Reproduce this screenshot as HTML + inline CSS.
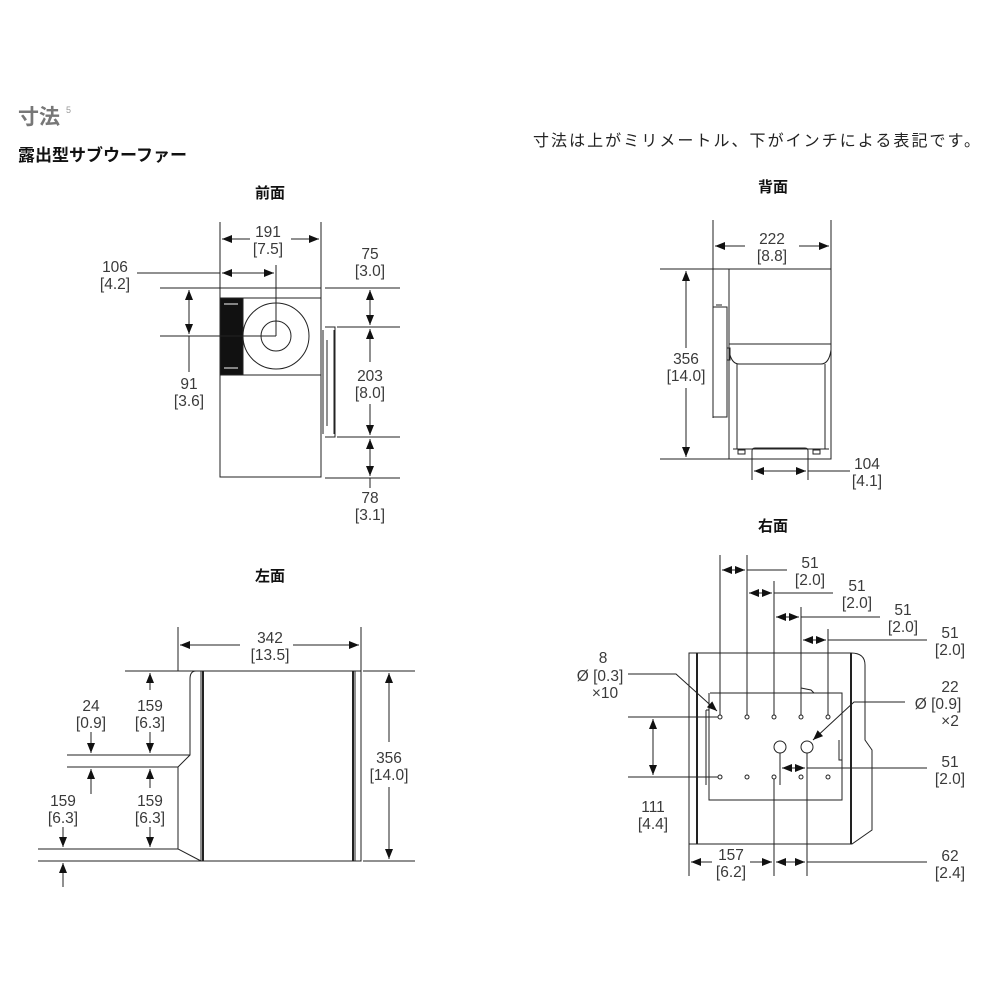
<!DOCTYPE html>
<html><head><meta charset="utf-8"><style>
html,body{margin:0;padding:0;background:#fff;}
svg{display:block;}
text{font-family:"Liberation Sans","Noto Sans CJK JP",sans-serif;}
.d{font-size:15.5px;fill:#3a3a3a;text-anchor:middle;}
.t{font-size:15px;font-weight:bold;fill:#111;text-anchor:middle;}
</style></head><body>
<svg width="1000" height="1000" viewBox="0 0 1000 1000" xmlns="http://www.w3.org/2000/svg">
<defs>
<marker id="a" viewBox="0 0 10 10" refX="10" refY="5" markerWidth="11" markerHeight="10" orient="auto-start-reverse" markerUnits="userSpaceOnUse"><path d="M0,1 L10,5 L0,9z" fill="#111"/></marker>
</defs>
<text x="18" y="124" font-size="21" font-weight="bold" fill="#777">寸法</text>
<text x="66" y="113" font-size="9" fill="#999">5</text>
<text x="18" y="161" font-size="17" font-weight="bold" fill="#111">露出型サブウーファー</text>
<text x="533" y="146" font-size="16" fill="#222" textLength="447" lengthAdjust="spacing">寸法は上がミリメートル、下がインチによる表記です。</text>

<text class="t" x="270" y="198">前面</text>
<text class="t" x="773" y="192">背面</text>
<text class="t" x="270" y="581">左面</text>
<text class="t" x="773" y="531">右面</text>

<g stroke="#222" stroke-width="1" fill="none">
<!-- FRONT -->
<rect x="220" y="288" width="101" height="189"/>
<line x1="220" y1="298" x2="321" y2="298"/>
<line x1="220" y1="375" x2="321" y2="375"/>
<rect x="220" y="298" width="23" height="77" fill="#111"/>
<line x1="224" y1="304" x2="238" y2="304" stroke="#aaa" stroke-width="1.5"/>
<line x1="224" y1="368" x2="238" y2="368" stroke="#aaa" stroke-width="1.5"/>
<circle cx="276" cy="336" r="33"/>
<circle cx="276" cy="336" r="15"/>
<path d="M325,327 h10 v110 h-10 M323,330 v104 M327,340 v86 M334,330 v104" />
<line x1="220" y1="222" x2="220" y2="288"/><line x1="321" y1="222" x2="321" y2="288"/>
<line x1="222" y1="239" x2="250" y2="239" marker-start="url(#a)"/><line x1="291" y1="239" x2="319" y2="239" marker-end="url(#a)"/>
<line x1="137" y1="273" x2="220" y2="273"/>
<line x1="222" y1="273" x2="274" y2="273" marker-start="url(#a)" marker-end="url(#a)"/>
<line x1="276" y1="265" x2="276" y2="336"/>
<line x1="160" y1="288" x2="220" y2="288"/><line x1="160" y1="336" x2="276" y2="336"/>
<line x1="189" y1="290" x2="189" y2="334" marker-start="url(#a)" marker-end="url(#a)"/>
<line x1="189" y1="336" x2="189" y2="372"/>
<line x1="325" y1="288" x2="400" y2="288"/><line x1="337" y1="327" x2="400" y2="327"/>
<line x1="337" y1="437" x2="400" y2="437"/><line x1="325" y1="478" x2="400" y2="478"/>
<line x1="370" y1="290" x2="370" y2="325" marker-start="url(#a)" marker-end="url(#a)"/>
<line x1="370" y1="329" x2="370" y2="362" marker-start="url(#a)"/>
<line x1="370" y1="404" x2="370" y2="435" marker-end="url(#a)"/>
<line x1="370" y1="439" x2="370" y2="476" marker-start="url(#a)" marker-end="url(#a)"/>
<line x1="370" y1="478" x2="370" y2="488"/>

<!-- BACK -->
<rect x="729" y="269" width="102" height="190"/>
<line x1="713" y1="269" x2="729" y2="269"/>
<line x1="713" y1="269" x2="713" y2="418"/>
<line x1="729" y1="344" x2="831" y2="344"/>
<path d="M729,350 q2,14 10,14 h82 q8,0 10,-14"/>
<path d="M737,364 v85 M825,364 v85 M733,449 h96"/>
<path d="M752,459 v-8 q0,-3 3,-3 h50 q3,0 3,3 v8"/>
<rect x="738" y="450" width="7" height="4"/><rect x="813" y="450" width="7" height="4"/>
<path d="M713,307 h14 v110 h-14 M716,305 h6 M727,348 h3 v12 h-3"/>
<line x1="713" y1="220" x2="713" y2="269"/><line x1="831" y1="220" x2="831" y2="269"/>
<line x1="715" y1="246" x2="745" y2="246" marker-start="url(#a)"/><line x1="799" y1="246" x2="829" y2="246" marker-end="url(#a)"/>
<line x1="660" y1="269" x2="713" y2="269"/><line x1="660" y1="459" x2="729" y2="459"/>
<line x1="686" y1="271" x2="686" y2="348" marker-start="url(#a)"/>
<line x1="686" y1="388" x2="686" y2="457" marker-end="url(#a)"/>
<line x1="752" y1="459" x2="752" y2="480"/><line x1="808" y1="459" x2="808" y2="480"/>
<line x1="754" y1="471" x2="806" y2="471" marker-start="url(#a)" marker-end="url(#a)"/>
<line x1="808" y1="471" x2="850" y2="471"/>

<!-- LEFT -->
<line x1="178" y1="627" x2="178" y2="671"/><line x1="361" y1="627" x2="361" y2="671"/>
<line x1="180" y1="645" x2="240" y2="645" marker-start="url(#a)"/><line x1="293" y1="645" x2="359" y2="645" marker-end="url(#a)"/>
<rect x="201" y="671" width="154" height="190"/>
<line x1="203" y1="671" x2="203" y2="861" stroke-width="2"/>
<line x1="353" y1="671" x2="353" y2="861" stroke-width="2"/>
<path d="M201,671 h-5 q-6,0 -6,8 v76 l-12,12 v82 l23,12"/>
<path d="M355,671 h6 v190 h-6"/>
<line x1="125" y1="671" x2="201" y2="671"/>
<line x1="67" y1="755" x2="190" y2="755"/><line x1="67" y1="767" x2="178" y2="767"/>
<line x1="38" y1="849" x2="178" y2="849"/><line x1="38" y1="861" x2="201" y2="861"/>
<line x1="363" y1="671" x2="415" y2="671"/><line x1="363" y1="861" x2="415" y2="861"/>
<line x1="389" y1="673" x2="389" y2="742" marker-start="url(#a)"/>
<line x1="389" y1="787" x2="389" y2="859" marker-end="url(#a)"/>
<line x1="150" y1="673" x2="150" y2="690" marker-start="url(#a)"/>
<line x1="150" y1="732" x2="150" y2="753" marker-end="url(#a)"/>
<line x1="91" y1="732" x2="91" y2="753" marker-end="url(#a)"/>
<line x1="91" y1="769" x2="91" y2="794" marker-start="url(#a)"/>
<line x1="150" y1="769" x2="150" y2="788" marker-start="url(#a)"/>
<line x1="150" y1="827" x2="150" y2="847" marker-end="url(#a)"/>
<line x1="63" y1="827" x2="63" y2="847" marker-end="url(#a)"/>
<line x1="63" y1="863" x2="63" y2="887" marker-start="url(#a)"/>

<!-- RIGHT -->
<path d="M689,653 h162 q14,0 14,12 v75 l7,10 v80 l-20,14 h-163 z"/>
<line x1="697" y1="653" x2="697" y2="844" stroke-width="2"/>
<line x1="851" y1="653" x2="851" y2="844" stroke-width="2"/>
<path d="M710,693 h132 v107 h-133 v-107"/>
<path d="M706,710 v75 M706,710 h3 M801,693 v-5 l10,2 l3,3"/>
<path d="M839,740 v20 h3"/>
<g fill="none">
<circle cx="720" cy="717" r="2"/><circle cx="747" cy="717" r="2"/><circle cx="774" cy="717" r="2"/><circle cx="801" cy="717" r="2"/><circle cx="828" cy="717" r="2"/>
<circle cx="720" cy="777" r="2"/><circle cx="747" cy="777" r="2"/><circle cx="774" cy="777" r="2"/><circle cx="801" cy="777" r="2"/><circle cx="828" cy="777" r="2"/>
<circle cx="780" cy="747" r="6"/><circle cx="807" cy="747" r="6"/>
</g>
<line x1="720" y1="555" x2="720" y2="715"/><line x1="747" y1="555" x2="747" y2="715"/>
<line x1="774" y1="581" x2="774" y2="715"/><line x1="801" y1="607" x2="801" y2="715"/>
<line x1="828" y1="629" x2="828" y2="715"/>
<line x1="722" y1="570" x2="745" y2="570" marker-start="url(#a)" marker-end="url(#a)"/><line x1="747" y1="570" x2="787" y2="570"/>
<line x1="749" y1="593" x2="772" y2="593" marker-start="url(#a)" marker-end="url(#a)"/><line x1="774" y1="593" x2="833" y2="593"/>
<line x1="776" y1="617" x2="799" y2="617" marker-start="url(#a)" marker-end="url(#a)"/><line x1="801" y1="617" x2="880" y2="617"/>
<line x1="803" y1="640" x2="826" y2="640" marker-start="url(#a)" marker-end="url(#a)"/><line x1="828" y1="640" x2="927" y2="640"/>
<path d="M628,674 h48 l41,37" marker-end="url(#a)"/>
<path d="M905,702 h-51 l-41,38" marker-end="url(#a)"/>
<line x1="628" y1="717" x2="718" y2="717"/><line x1="628" y1="777" x2="718" y2="777"/>
<line x1="653" y1="719" x2="653" y2="775" marker-start="url(#a)" marker-end="url(#a)"/>
<line x1="780" y1="753" x2="780" y2="785"/><line x1="774" y1="779" x2="774" y2="876"/>
<line x1="807" y1="753" x2="807" y2="876"/>
<line x1="782" y1="768" x2="805" y2="768" marker-start="url(#a)" marker-end="url(#a)"/><line x1="807" y1="768" x2="927" y2="768"/>
<line x1="689" y1="844" x2="689" y2="876"/>
<line x1="691" y1="862" x2="712" y2="862" marker-start="url(#a)"/><line x1="750" y1="862" x2="772" y2="862" marker-end="url(#a)"/>
<line x1="776" y1="862" x2="805" y2="862" marker-start="url(#a)" marker-end="url(#a)"/><line x1="807" y1="862" x2="927" y2="862"/>
</g>

<g class="d">
<text class="d" x="268" y="237">191</text><text class="d" x="268" y="254">[7.5]</text>
<text class="d" x="115" y="272">106</text><text class="d" x="115" y="289">[4.2]</text>
<text class="d" x="189" y="389">91</text><text class="d" x="189" y="406">[3.6]</text>
<text class="d" x="370" y="259">75</text><text class="d" x="370" y="276">[3.0]</text>
<text class="d" x="370" y="381">203</text><text class="d" x="370" y="398">[8.0]</text>
<text class="d" x="370" y="503">78</text><text class="d" x="370" y="520">[3.1]</text>

<text class="d" x="772" y="244">222</text><text class="d" x="772" y="261">[8.8]</text>
<text class="d" x="686" y="364">356</text><text class="d" x="686" y="381">[14.0]</text>
<text class="d" x="867" y="469">104</text><text class="d" x="867" y="486">[4.1]</text>

<text class="d" x="270" y="643">342</text><text class="d" x="270" y="660">[13.5]</text>
<text class="d" x="389" y="763">356</text><text class="d" x="389" y="780">[14.0]</text>
<text class="d" x="91" y="711">24</text><text class="d" x="91" y="728">[0.9]</text>
<text class="d" x="150" y="711">159</text><text class="d" x="150" y="728">[6.3]</text>
<text class="d" x="63" y="806">159</text><text class="d" x="63" y="823">[6.3]</text>
<text class="d" x="150" y="806">159</text><text class="d" x="150" y="823">[6.3]</text>

<text class="d" x="810" y="568">51</text><text class="d" x="810" y="585">[2.0]</text>
<text class="d" x="857" y="591">51</text><text class="d" x="857" y="608">[2.0]</text>
<text class="d" x="903" y="615">51</text><text class="d" x="903" y="632">[2.0]</text>
<text class="d" x="950" y="638">51</text><text class="d" x="950" y="655">[2.0]</text>
<text class="d" x="603" y="663">8</text><text class="d" x="600" y="681">Ø  [0.3]</text><text class="d" x="605" y="698">×10</text>
<text class="d" x="950" y="692">22</text><text class="d" x="938" y="709">Ø  [0.9]</text><text class="d" x="950" y="726">×2</text>
<text class="d" x="950" y="767">51</text><text class="d" x="950" y="784">[2.0]</text>
<text class="d" x="653" y="812">111</text><text class="d" x="653" y="829">[4.4]</text>
<text class="d" x="731" y="860">157</text><text class="d" x="731" y="877">[6.2]</text>
<text class="d" x="950" y="861">62</text><text class="d" x="950" y="878">[2.4]</text>
</g>
</svg>
</body></html>
